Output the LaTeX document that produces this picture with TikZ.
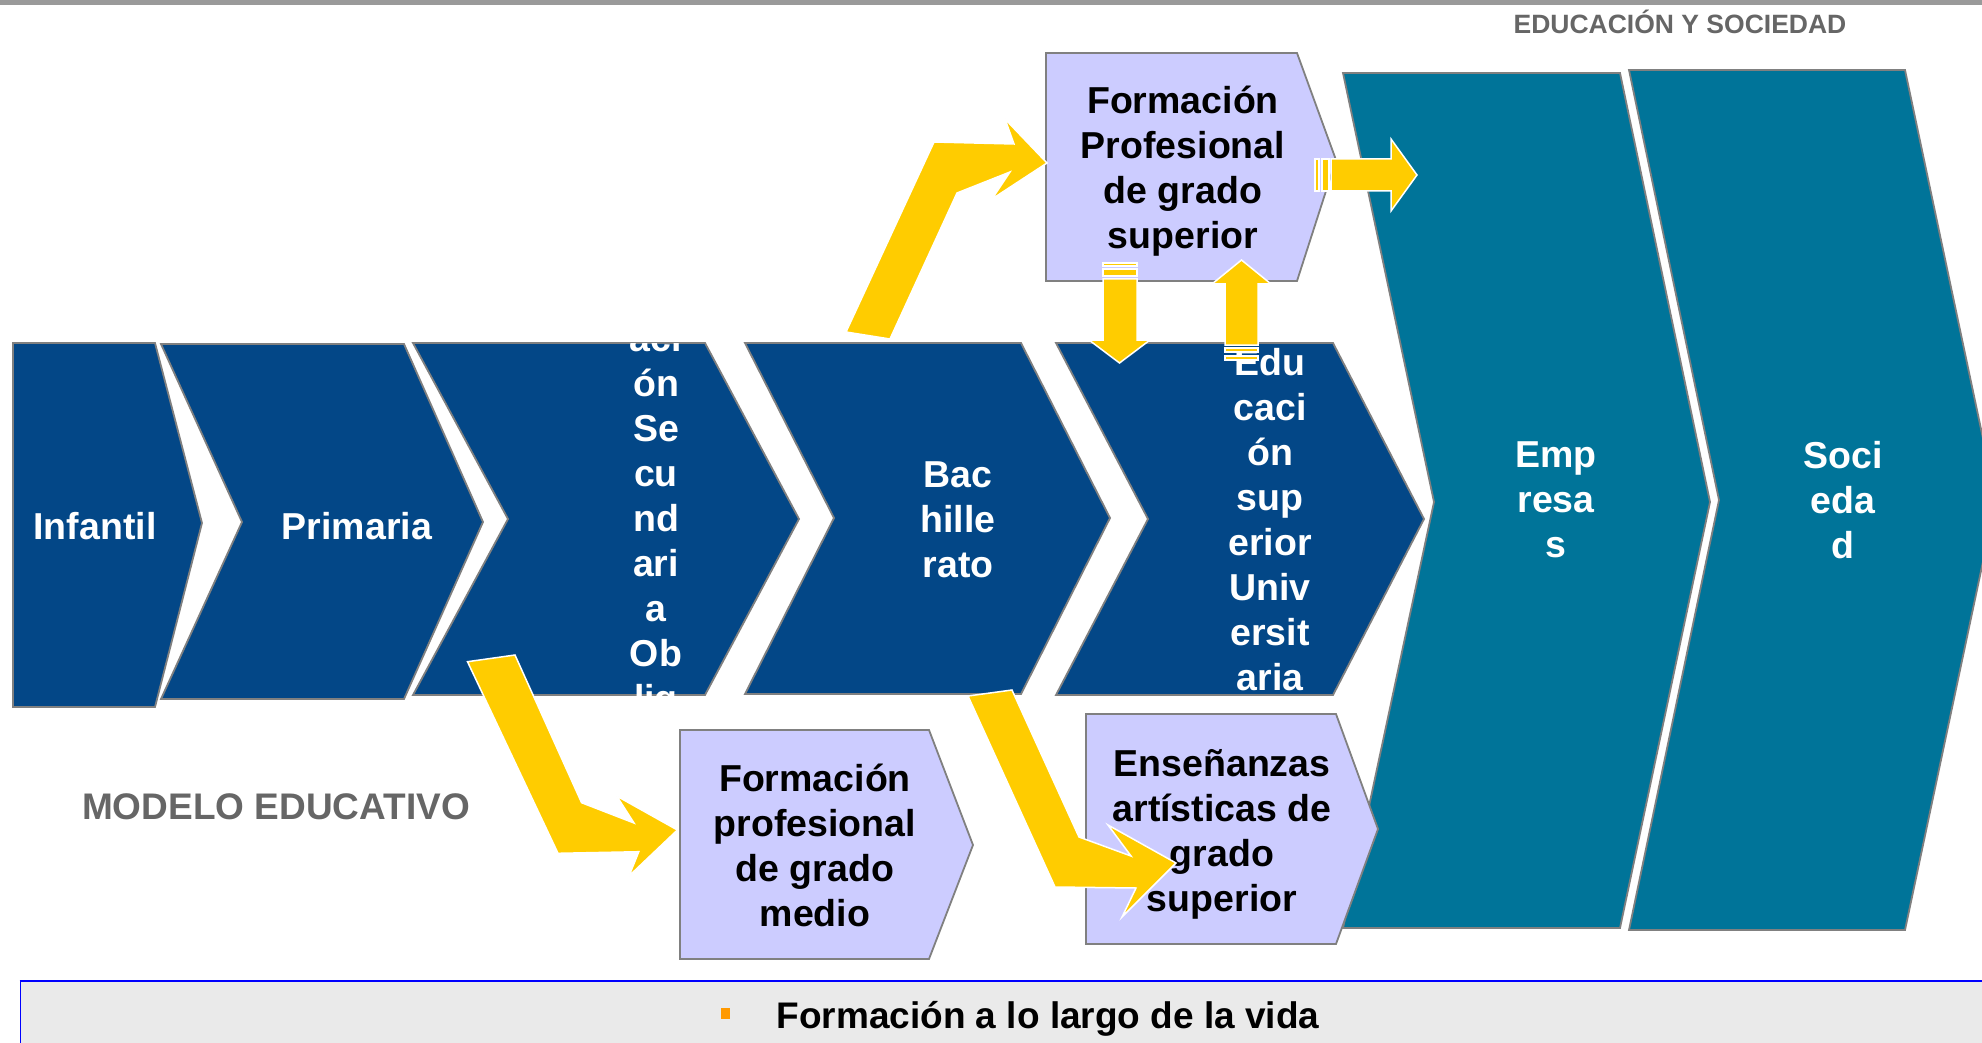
\documentclass[tikz,border=0pt]{standalone}
\usepackage{fontspec}
\setmainfont{Liberation Sans}
\definecolor{navy}{RGB}{3,71,135}
\definecolor{tealc}{RGB}{0,116,153}
\definecolor{lav}{RGB}{204,204,255}
\definecolor{yel}{RGB}{255,204,0}
\definecolor{bord}{RGB}{128,128,128}
\definecolor{hdr}{RGB}{102,102,102}
\definecolor{band}{RGB}{234,234,234}
\definecolor{bullet}{RGB}{255,153,0}
\begin{document}
\begin{tikzpicture}[x=1pt,y=-1pt,
  chev/.style={draw=bord, line width=1.8pt, line join=miter, fill=navy},
  tealchev/.style={draw=bord, line width=1.8pt, line join=miter, fill=tealc},
  lavbox/.style={draw=bord, line width=1.8pt, line join=miter, fill=lav},
  yarrow/.style={fill=yel, draw=white, line width=1.5pt, line join=miter},
  chevtxt/.style={text=white, font=\bfseries\fontsize{37.5}{45}\selectfont, align=center, inner sep=0pt},
  boxtxt/.style={text=black, font=\bfseries\fontsize{37.5}{45}\selectfont, align=center, inner sep=0pt},
  greytxt/.style={text=hdr, font=\bfseries\fontsize{37}{44}\selectfont, inner sep=0pt}]
\useasboundingbox (0,0) rectangle (1982,1043);
% top bar
\fill[bord!80] (0,0) rectangle (1982,5);
\node[text=hdr, font=\bfseries\fontsize{26.5}{31}\selectfont, inner sep=0pt] (hdrtxt) at (1680,22) {EDUCACIÓN Y SOCIEDAD};
% teal chevrons
\draw[tealchev] (1343,73) -- (1620,73) -- (1710,502) -- (1620,928) -- (1343,928) -- (1434,502) -- cycle;
\draw[tealchev] (1629,70) -- (1905,70) -- (1996,500) -- (1905,930) -- (1629,930) -- (1719,500) -- cycle;
\node[chevtxt] (emp) at (1556,500) {Emp\\resa\\s};
\node[chevtxt] (soc) at (1843,500) {Soci\\eda\\d};
% navy chevrons
\draw[chev] (13,343) -- (155,343) -- (202,523) -- (155,707) -- (13,707) -- cycle;
\draw[chev] (161,344) -- (404,344) -- (483,522) -- (404,699) -- (161,699) -- (242,522) -- cycle;
\draw[chev] (413,343) -- (705,343) -- (799,519) -- (705,695) -- (413,695) -- (508,519) -- cycle;
\draw[chev] (745,343) -- (1021,343) -- (1110,518) -- (1021,694) -- (745,694) -- (834,518) -- cycle;
\draw[chev] (1056,343) -- (1333,343) -- (1424,519) -- (1333,695) -- (1056,695) -- (1148,519) -- cycle;
\node[chevtxt] (inf) at (95,526) {Infantil};
\node[chevtxt] (pri) at (357,526) {Primaria};
\begin{scope}
\clip (413,343) -- (705,343) -- (799,519) -- (705,695) -- (413,695) -- (508,519) -- cycle;
\node[chevtxt] (sec) at (656,522) {aci\\ón\\Se\\cu\\nd\\ari\\a\\Ob\\lig};
\end{scope}
\node[chevtxt] (bach) at (958,520) {Bac\\hille\\rato};
\node[chevtxt] (esup) at (1270,520) {Edu\\caci\\ón\\sup\\erior\\Univ\\ersit\\aria};
% lavender boxes
\draw[lavbox] (1046,53) -- (1297,53) -- (1336,160) -- (1297,281) -- (1046,281) -- cycle;
\node[boxtxt] (fps) at (1183,171) {Formación\\Profesional\\de grado\\superior};
\draw[lavbox] (680,730) -- (929,730) -- (973,845) -- (929,959) -- (680,959) -- cycle;
\node[boxtxt] (fpm) at (815,845) {Formación\\profesional\\de grado\\medio};
\draw[lavbox] (1086,714) -- (1336,714) -- (1378,829) -- (1336,944) -- (1086,944) -- cycle;
\node[boxtxt] (ens) at (1222,834) {Enseñanzas\\artísticas de\\grado\\superior};
% yellow arrows
\draw[yarrow] (846,332) -- (934,142) -- (1014,144) -- (1005,119) -- (1047,163) -- (992,199) -- (1010,172) -- (957,193) -- (890,339) -- cycle;
\draw[yarrow] (467.5,661.7) -- (515,655) -- (581.6,802.7) -- (634,823) -- (616.7,796) -- (677.4,830) -- (629,876) -- (638.8,851.7) -- (558,853.3) -- cycle;
\draw[yarrow] (968,696) -- (1012,690) -- (1079,837) -- (1131,856) -- (1108,825) -- (1176,863) -- (1122,917) -- (1136,888) -- (1055,887) -- cycle;
% right striped arrow
\draw[yarrow] (1315,159) rectangle (1319,191);
\draw[yarrow] (1322,159) rectangle (1329,191);
\draw[yarrow] (1331,159) -- (1391,159) -- (1391,139) -- (1417,175) -- (1391,211) -- (1391,191) -- (1331,191) -- cycle;
% down striped arrow
\draw[yarrow] (1103,263) rectangle (1137,266);
\draw[yarrow] (1103,269) rectangle (1137,276);
\draw[yarrow] (1103,279) -- (1137,279) -- (1137,340) -- (1150,340) -- (1119.5,363) -- (1089,340) -- (1103,340) -- cycle;
% up striped arrow
\draw[yarrow] (1225,345) -- (1225,284) -- (1212,284) -- (1241.5,260) -- (1271,284) -- (1258,284) -- (1258,345) -- cycle;
\draw[yarrow] (1225,348) rectangle (1258,352);
\draw[yarrow] (1225,356) rectangle (1258,360);
% labels
\node[greytxt] (modelo) at (276,807) {MODELO EDUCATIVO};
% bottom band
\fill[band] (20,981) rectangle (1982,1043);
\draw[blue, line width=1.5pt] (20.5,1043) -- (20.5,981);
\draw[blue, line width=2.8pt] (19.5,981) -- (1982,981);
\fill[bullet] (721,1008) rectangle (730,1019);
\node[text=black, font=\bfseries\fontsize{37}{44}\selectfont, inner sep=0pt] (vida) at (1048,1019) {Formación a lo largo de la vida};
\end{tikzpicture}
\end{document}
